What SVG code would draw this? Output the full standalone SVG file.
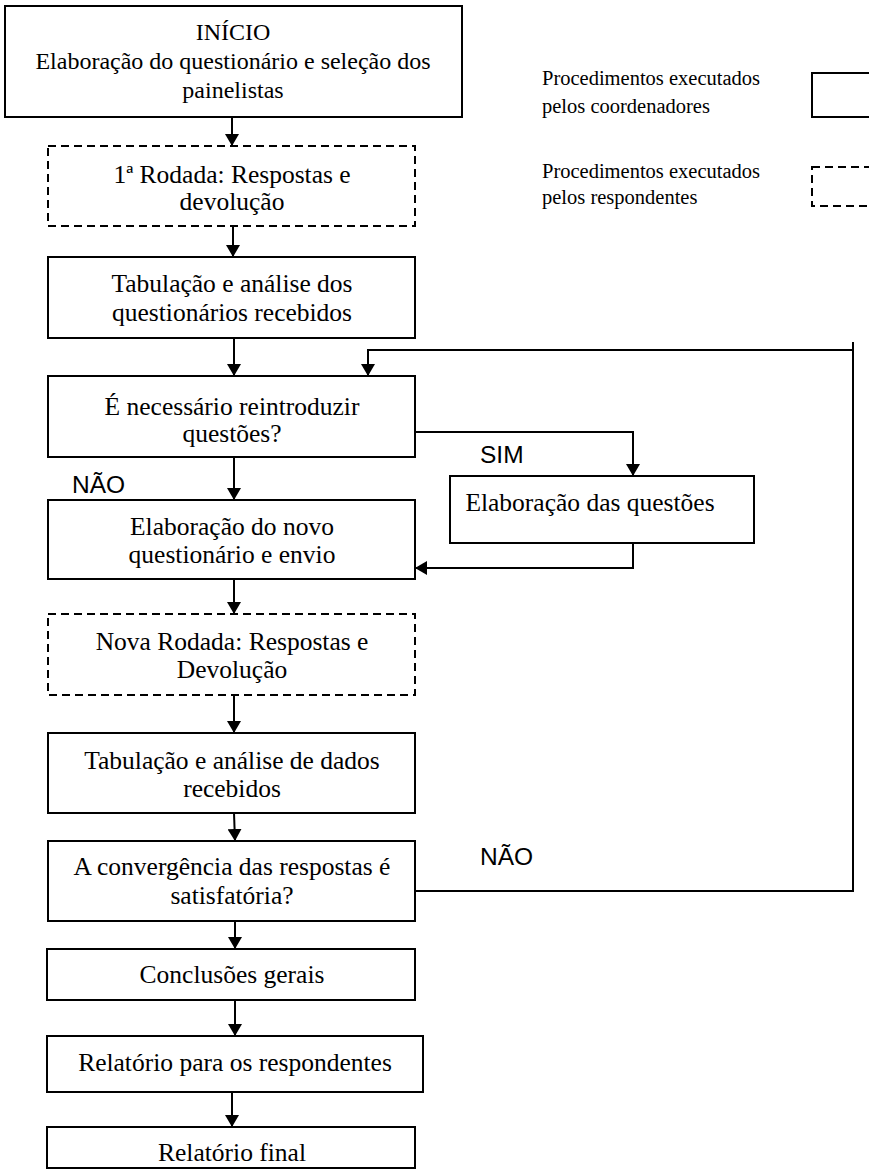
<svg xmlns="http://www.w3.org/2000/svg" width="869" height="1170" viewBox="0 0 869 1170">
<style>
.box{fill:#fff;stroke:#000;stroke-width:2}
.dash{fill:#fff;stroke:#000;stroke-width:2;stroke-dasharray:8,5}
.t{font-family:"Liberation Serif","Times New Roman",serif;font-size:25.5px;fill:#000;text-anchor:middle}
.t1{font-size:24px}
.lg{font-family:"Liberation Serif","Times New Roman",serif;font-size:20.5px;fill:#000}
.s{font-family:"Liberation Sans",Arial,sans-serif;font-size:24.5px;fill:#000}
.c{fill:none;stroke:#000;stroke-width:2}
</style>
<defs>
<marker id="ah" viewBox="0 0 12 14" refX="12" refY="7" markerWidth="12" markerHeight="14" markerUnits="userSpaceOnUse" orient="auto">
<path d="M0,0 L12,7 L0,14 Z" fill="#000"/>
</marker>
</defs>
<g id="n1"><rect class="box" x="5" y="6" width="457" height="111"/>
<text class="t t1" x="233" y="40">INÍCIO</text>
<text class="t t1" x="233" y="69">Elaboração do questionário e seleção dos</text>
<text class="t t1" x="233" y="98">painelistas</text></g>
<g id="n2"><rect class="dash" x="48" y="146" width="367" height="80"/>
<text class="t" x="232" y="183">1ª Rodada: Respostas e</text>
<text class="t" x="232" y="210">devolução</text></g>
<g id="n3"><rect class="box" x="48" y="257" width="367" height="81"/>
<text class="t" x="232" y="292">Tabulação e análise dos</text>
<text class="t" x="232" y="321">questionários recebidos</text></g>
<g id="n4"><rect class="box" x="48" y="376" width="367" height="81"/>
<text class="t" x="232" y="415">É necessário reintroduzir</text>
<text class="t" x="232" y="442">questões?</text></g>
<g id="n5"><rect class="box" x="450" y="476" width="304" height="67"/>
<text class="t" x="590" y="511">Elaboração das questões</text></g>
<g id="n6"><rect class="box" x="48" y="500" width="367" height="79"/>
<text class="t" x="232" y="535">Elaboração do novo</text>
<text class="t" x="232" y="563">questionário e envio</text></g>
<g id="n7"><rect class="dash" x="48" y="614" width="367" height="81"/>
<text class="t" x="232" y="650">Nova Rodada: Respostas e</text>
<text class="t" x="232" y="678">Devolução</text></g>
<g id="n8"><rect class="box" x="48" y="733" width="367" height="80"/>
<text class="t" x="232" y="769">Tabulação e análise de dados</text>
<text class="t" x="232" y="797">recebidos</text></g>
<g id="n9"><rect class="box" x="48" y="841" width="367" height="80"/>
<text class="t" x="232" y="875">A convergência das respostas é</text>
<text class="t" x="232" y="904">satisfatória?</text></g>
<g id="n10"><rect class="box" x="47" y="949" width="368" height="51"/>
<text class="t" x="232" y="983">Conclusões gerais</text></g>
<g id="n11"><rect class="box" x="47" y="1036" width="376" height="56"/>
<text class="t" x="235" y="1071">Relatório para os respondentes</text></g>
<g id="n12"><rect class="box" x="47" y="1127" width="368" height="41"/>
<text class="t" x="232" y="1161">Relatório final</text></g>
<g id="legend">
<text class="lg" x="542" y="85">Procedimentos executados</text>
<text class="lg" x="542" y="113">pelos coordenadores</text>
<rect class="box" x="812" y="73" width="60" height="44"/>
<text class="lg" x="542" y="178">Procedimentos executados</text>
<text class="lg" x="542" y="204">pelos respondentes</text>
<rect class="dash" x="812" y="167" width="60" height="39"/>
</g>
<g id="connectors">
<line class="c" x1="232" y1="117" x2="232" y2="146" marker-end="url(#ah)"/>
<line class="c" x1="233" y1="226" x2="233" y2="257" marker-end="url(#ah)"/>
<line class="c" x1="234" y1="338" x2="234" y2="376" marker-end="url(#ah)"/>
<polyline class="c" points="853,342 853,350 368,350 368,376" marker-end="url(#ah)"/>
<polyline class="c" points="415,432 633,432 633,476" marker-end="url(#ah)"/>
<line class="c" x1="234" y1="457" x2="234" y2="500" marker-end="url(#ah)"/>
<polyline class="c" points="633,543 633,568 415,568" marker-end="url(#ah)"/>
<line class="c" x1="234" y1="579" x2="234" y2="614" marker-end="url(#ah)"/>
<line class="c" x1="234" y1="695" x2="234" y2="733" marker-end="url(#ah)"/>
<line class="c" x1="234" y1="813" x2="235" y2="841" marker-end="url(#ah)"/>
<polyline class="c" points="415,891 853,891 853,342"/>
<line class="c" x1="235" y1="921" x2="235" y2="949" marker-end="url(#ah)"/>
<line class="c" x1="235" y1="1000" x2="235" y2="1036" marker-end="url(#ah)"/>
<line class="c" x1="232" y1="1092" x2="232" y2="1127" marker-end="url(#ah)"/>
<text class="s" x="480" y="463">SIM</text>
<text class="s" x="72" y="493">NÃO</text>
<text class="s" x="480" y="865">NÃO</text>
</g>
</svg>
